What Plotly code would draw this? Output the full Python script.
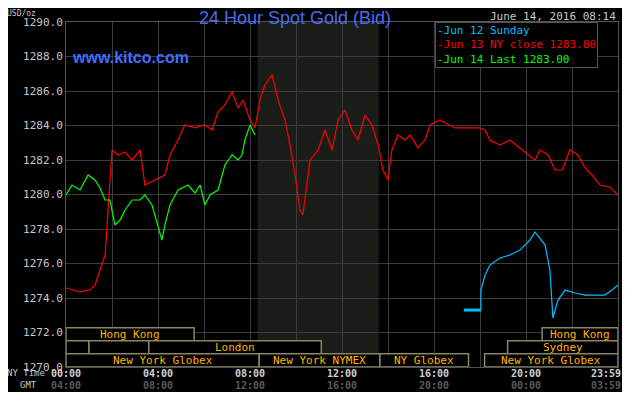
import plotly.graph_objects as go

red_t = [0,0.61,1.04,1.26,1.48,1.70,1.83,2.0,2.26,2.57,2.87,3.22,3.43,3.87,4.30,4.52,4.87,5.17,5.61,6.04,6.35,6.61,6.91,7.22,7.48,7.70,8.0,8.22,8.43,8.65,8.96,9.22,9.52,9.74,9.96,10.17,10.30,10.61,10.96,11.26,11.57,11.83,12.13,12.43,12.70,13.0,13.30,13.57,13.78,14.0,14.17,14.43,14.74,14.96,15.30,15.61,15.83,16.26,16.70,16.91,18.0,18.22,18.43,18.87,19.30,19.74,20.09,20.39,20.61,20.96,21.26,21.57,21.91,22.26,22.57,22.87,23.22,23.65,24.0]
red_v = [1274.58,1274.35,1274.46,1274.75,1275.62,1276.49,1279.10,1282.58,1282.29,1282.46,1282.0,1282.58,1280.55,1280.84,1281.13,1282.29,1283.16,1284.03,1283.86,1284.03,1283.74,1284.78,1285.19,1285.94,1285.01,1285.48,1284.32,1283.86,1285.48,1286.35,1286.93,1285.48,1284.32,1282.87,1281.13,1279.10,1278.81,1282.0,1282.58,1283.74,1282.58,1284.32,1284.90,1283.74,1283.16,1284.61,1284.03,1282.87,1281.42,1280.84,1282.58,1283.45,1283.16,1283.45,1282.70,1283.16,1284.03,1284.32,1284.03,1283.86,1283.86,1283.74,1283.16,1282.87,1283.16,1282.70,1282.29,1282.0,1282.58,1282.29,1281.42,1281.42,1282.58,1282.29,1281.54,1281.13,1280.55,1280.43,1279.97]
green_t = [0,0.26,0.61,0.96,1.26,1.48,1.70,1.91,2.13,2.35,2.57,2.87,3.22,3.43,3.74,4.0,4.17,4.30,4.52,4.87,5.30,5.61,5.83,6.04,6.26,6.61,6.91,7.22,7.48,7.65,7.78,8.0,8.22]
green_v = [1279.97,1280.55,1280.26,1281.13,1280.84,1280.38,1279.68,1279.68,1278.23,1278.52,1279.10,1279.68,1279.68,1279.97,1279.39,1278.23,1277.36,1278.23,1279.39,1280.26,1280.55,1280.09,1280.55,1279.39,1279.97,1280.26,1281.71,1282.29,1282.0,1282.29,1283.16,1284.03,1283.45]
cyan_t = [17.30,18.04,18.04,18.22,18.43,18.87,19.30,19.74,20.17,20.39,20.61,20.83,21.04,21.17,21.39,21.70,22.13,22.57,23.0,23.43,23.74,24.0]
cyan_v = [1273.30,1273.30,1274.46,1275.33,1275.91,1276.32,1276.49,1276.78,1277.36,1277.83,1277.48,1277.07,1275.62,1272.84,1273.88,1274.46,1274.29,1274.17,1274.17,1274.17,1274.46,1274.75]

ny_ticks = [0, 4, 8, 12, 16, 20, 24]
ny_labels = ["00:00", "04:00", "08:00", "12:00", "16:00", "20:00", "23:59"]
gmt_labels = ["04:00", "08:00", "12:00", "16:00", "20:00", "00:00", "03:59"]

# sessions: (start, end, row, label)
sessions = [
    (0, 5.57, 0, "Hong Kong"), (20.7, 24, 0, "Hong Kong"),
    (0, 1.0, 1, ""), (1.0, 3.6, 1, ""), (3.6, 11.1, 1, "London"), (19.2, 24, 1, "Sydney"),
    (0, 8.4, 2, "New York Globex"), (8.4, 13.65, 2, "New York NYMEX"),
    (13.65, 17.5, 2, "NY Globex"), (18.2, 24, 2, "New York Globex"),
]
row_y = [(1271.52, 1272.27), (1270.77, 1271.52), (1270.0, 1270.77)]

MONO = "DejaVu Sans Mono"
fig = go.Figure()
fig.add_trace(go.Scatter(x=red_t, y=red_v, mode="lines", line=dict(color="#ff0000", width=1.2), hoverinfo="skip"))
fig.add_trace(go.Scatter(x=green_t, y=green_v, mode="lines", line=dict(color="#00ff00", width=1.2), hoverinfo="skip"))
fig.add_trace(go.Scatter(x=cyan_t[:2], y=cyan_v[:2], mode="lines", line=dict(color="#00bfff", width=3), hoverinfo="skip"))
fig.add_trace(go.Scatter(x=cyan_t[1:], y=cyan_v[1:], mode="lines", line=dict(color="#00bfff", width=1.2), hoverinfo="skip"))

shapes = [dict(type="rect", xref="x", yref="paper", x0=8.33, x1=13.6, y0=0, y1=1,
               fillcolor="#1a1d18", line_width=0, layer="below")]
annos = []
for s, e, r, lab in sessions:
    y0, y1 = row_y[r]
    shapes.append(dict(type="rect", x0=s, x1=e, y0=y0, y1=y1, fillcolor="black",
                       line=dict(color="#8c8660", width=1.5), layer="above"))
    if lab:
        annos.append(dict(x=(s + e) / 2, y=(y0 + y1) / 2, text=lab, showarrow=False,
                          font=dict(family=MONO, size=11, color="#ffb400")))
for t, n, g in zip(ny_ticks, ny_labels, gmt_labels):
    last = t == 24
    common = dict(x=t, xref="x", yref="paper", showarrow=False, yanchor="top", borderpad=0,
                  xanchor="right" if last else "center", xshift=4 if last else 0)
    annos.append(dict(y=-0.001, text="<b>" + n + "</b>", font=dict(family=MONO, size=10, color="#d0d0d0"), **common))
    annos.append(dict(y=-0.035, text="<b>" + g + "</b>", font=dict(family=MONO, size=10, color="#5a5a5a"), **common))
annos += [
    dict(x=0, y=-0.001, xref="paper", yref="paper", xanchor="right", yanchor="top", text="NY Time", showarrow=False,
         font=dict(family=MONO, size=9, color="#c8c8c8"), xshift=-20, borderpad=0),
    dict(x=0, y=-0.035, xref="paper", yref="paper", xanchor="right", yanchor="top", text="GMT", showarrow=False,
         font=dict(family=MONO, size=9, color="#c8c8c8"), xshift=-28, borderpad=0),
    dict(x=0, y=1.042, xref="paper", yref="paper", xanchor="left", yanchor="top", text="USD/oz", showarrow=False,
         font=dict(family=MONO, size=8, color="#c8c8c8"), xshift=-60, borderpad=0),
    dict(x=0.415, y=1.045, xref="paper", yref="paper", yanchor="top", text="24 Hour Spot Gold (Bid)", showarrow=False,
         font=dict(family="Liberation Sans", size=18, color="#4a6cf0")),
    dict(x=1, y=1.041, xref="paper", yref="paper", xanchor="right", yanchor="top", text="June 14, 2016 08:14", showarrow=False,
         font=dict(family=MONO, size=11, color="#c8c8c8")),
    dict(x=0.007, y=0.928, xref="paper", yref="paper", xanchor="left", text="<b>www.kitco.com</b>", showarrow=False,
         font=dict(family="Liberation Sans", size=16, color="#3f6cff")),
    dict(x=0.668, y=1.0, xref="paper", yref="paper", xanchor="left", yanchor="top", align="left",
         text="<span style='color:#00bfff'>-Jun 12 Sunday</span><br>"
              "<span style='color:#ff0000'>-Jun 13 NY close 1283.80</span><br>"
              "<span style='color:#00ff00'>-Jun 14 Last 1283.00</span>",
         showarrow=False, bgcolor="black", bordercolor="#555555", borderwidth=1, borderpad=1,
         font=dict(family=MONO, size=11)),
]

fig.update_layout(
    width=614, height=384, paper_bgcolor="black", plot_bgcolor="black",
    margin=dict(l=58, r=4, t=14, b=25), showlegend=False,
    shapes=shapes, annotations=annos,
    xaxis=dict(range=[0, 24], tickvals=list(range(0, 25, 2)), showticklabels=False,
               showgrid=True, gridcolor="#3c3c3c", zeroline=False, ticks="",
               showline=True, linecolor="#555555", mirror=True, automargin=False),
    yaxis=dict(range=[1270, 1290], dtick=2, tickformat=".1f", showgrid=True, gridcolor="#3c3c3c",
               zeroline=False, ticks="", showline=True, linecolor="#555555", mirror=True, automargin=False,
               tickfont=dict(family=MONO, size=11, color="#c8c8c8")),
)
fig.write_html("out.html")
